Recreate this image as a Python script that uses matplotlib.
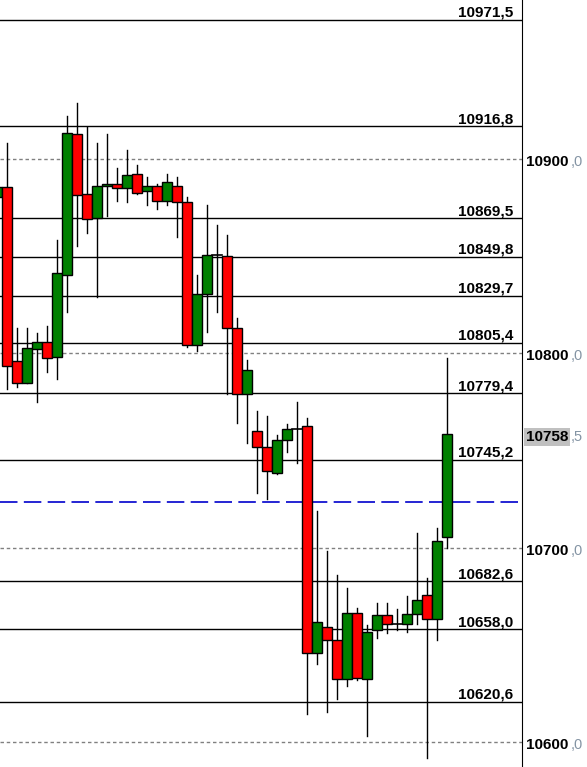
import matplotlib.pyplot as plt
from matplotlib.patches import Rectangle

plt.rcParams['font.family'] = ['Liberation Sans', 'DejaVu Sans']

# candle data (oldest first)
opens = [10880.6, 10885.4, 10795.9, 10784.6, 10802.1, 10806.0, 10798.0, 10840.2, 10912.7, 10881.8,
         10869.5, 10885.9, 10887.0, 10884.9, 10892.1, 10883.4, 10885.9, 10878.2, 10885.9, 10877.7,
         10804.1, 10830.4, 10850.4, 10849.9, 10812.9, 10779.1, 10759.9, 10751.6, 10738.3, 10755.2,
         10761.2, 10762.4, 10645.6, 10659.0, 10652.3, 10632.3, 10666.2, 10632.3, 10657.5, 10665.2,
         10660.9, 10660.9, 10665.7, 10675.5, 10663.1, 10705.3]
highs = [10888.0, 10908.4, 10813.0, 10813.0, 10810.5, 10814.1, 10858.3, 10922.1, 10928.7, 10916.6,
         10908.4, 10912.9, 10895.2, 10904.6, 10896.9, 10890.6, 10887.0, 10892.1, 10890.6, 10880.3,
         10840.2, 10876.3, 10865.9, 10860.7, 10818.0, 10796.6, 10770.3, 10767.7, 10757.8, 10763.5,
         10775.0, 10766.6, 10718.7, 10698.1, 10685.8, 10679.1, 10668.8, 10660.0, 10671.4, 10671.4,
         10668.3, 10675.0, 10707.4, 10684.2, 10709.9, 10797.6]
lows = [10878.0, 10781.6, 10782.8, 10784.6, 10775.1, 10790.5, 10786.6, 10821.4, 10855.4, 10862.1,
        10828.8, 10870.7, 10878.5, 10878.0, 10882.0, 10876.3, 10874.1, 10876.2, 10859.7, 10803.1,
        10801.0, 10810.8, 10821.1, 10778.9, 10764.0, 10753.7, 10728.0, 10724.9, 10738.0, 10749.1,
        10743.4, 10614.2, 10640.3, 10615.6, 10622.0, 10628.8, 10631.9, 10603.2, 10653.4, 10655.9,
        10657.5, 10656.4, 10660.6, 10591.9, 10652.3, 10699.7]
closes = [10885.4, 10793.6, 10784.6, 10802.6, 10806.0, 10797.4, 10841.2, 10913.2, 10881.3, 10869.0,
          10885.9, 10887.0, 10884.9, 10891.6, 10882.3, 10885.9, 10878.2, 10888.0, 10877.7, 10804.1,
          10830.4, 10850.4, 10850.4, 10812.9, 10779.1, 10791.3, 10751.6, 10739.3, 10755.2, 10761.2,
          10761.2, 10645.6, 10661.6, 10652.3, 10632.3, 10666.2, 10632.8, 10656.4, 10665.2, 10660.6,
          10660.9, 10665.7, 10672.9, 10663.1, 10703.3, 10758.5]

levels = [10971.5, 10916.8, 10869.5, 10849.8, 10829.7, 10805.4, 10779.4, 10745.2, 10682.6, 10658.0, 10620.6]
level_labels = ['10971,5', '10916,8', '10869,5', '10849,8', '10829,7', '10805,4', '10779,4',
                '10745,2', '10682,6', '10658,0', '10620,6']
grid_prices = [10900, 10800, 10700, 10600]
dash_level = 10723.5
last_price = 10758.5

fig = plt.figure(figsize=(5.87, 7.67), dpi=100)
ax = fig.add_axes([0, 0, 522 / 587, 1])
ax.set_xlim(0.27, 52.47)
ax.set_ylim(10587.1, 10981.8)

for p in grid_prices:
    ax.axhline(p, color='#808080', lw=1, ls=(0, (2.5, 2)), zorder=1)
for lv, lab in zip(levels, level_labels):
    ax.axhline(lv, color='black', lw=1, zorder=2)
    ax.annotate(lab, xy=(513 / 522, lv), xycoords=('axes fraction', 'data'),
                xytext=(0, 2.2), textcoords='offset points', ha='right', va='baseline',
                fontsize=11, fontweight='bold', zorder=6)
ax.axhline(dash_level, color='#0000cc', lw=1.2, ls=(0, (10.5, 3.8)), zorder=2)

for i, (o, h, l, c) in enumerate(zip(opens, highs, lows, closes)):
    ax.plot([i, i], [l, h], color='black', lw=1, zorder=3)
    if abs(c - o) < 0.3:
        ax.plot([i - 0.5, i + 0.5], [o, o], color='black', lw=1.2, zorder=4)
        continue
    col = '#008000' if c > o else '#ff0000'
    ax.add_patch(Rectangle((i - 0.5, min(o, c)), 1.0, abs(c - o), facecolor=col,
                           edgecolor='black', lw=1, zorder=4))

for s in ['top', 'left', 'bottom']:
    ax.spines[s].set_visible(False)
ax.spines['right'].set_color('black')
ax.set_xticks([])
ax.set_yticks([])

# right-hand price scale
main_texts = []
for p in grid_prices:
    t = ax.annotate(str(p), xy=(1, p), xycoords=('axes fraction', 'data'), xytext=(3, -5),
                    textcoords='offset points', ha='left', va='baseline',
                    fontsize=11, fontweight='bold', annotation_clip=False)
    main_texts.append((t, p, ',0'))
t = ax.annotate('10758', xy=(1, last_price), xycoords=('axes fraction', 'data'), xytext=(3, -5),
                textcoords='offset points', ha='left', va='baseline', fontsize=11,
                fontweight='bold', annotation_clip=False,
                bbox=dict(boxstyle='square,pad=0.12', fc='#c0c0c0', ec='none'))
main_texts.append((t, last_price, ',5'))

fig.canvas.draw()
r = fig.canvas.get_renderer()
for t, p, dec in main_texts:
    w = t.get_window_extent(r).width * 72 / fig.dpi
    ax.annotate(dec, xy=(1, p), xycoords=('axes fraction', 'data'), xytext=(3 + w + 1.3, -5),
                textcoords='offset points', ha='left', va='baseline', fontsize=10.5,
                color='#8494a4', annotation_clip=False)

fig.savefig('out.png', dpi=100)
